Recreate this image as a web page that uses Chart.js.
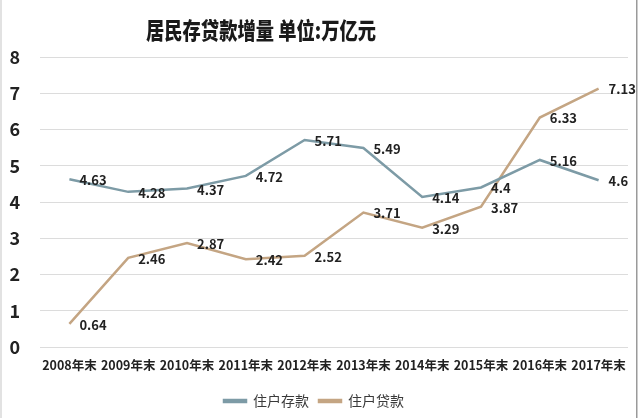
<!DOCTYPE html>
<html>
<head>
<meta charset="utf-8">
<script src="https://cdn.jsdelivr.net/npm/chart.js@4"></script>
<style>
    html, body { margin: 0; padding: 0; background: #fff; }
    #wrap { width: 640px; height: 418px; }
</style>
</head>
<body>
<div id="wrap"><canvas id="chart" width="640" height="418"></canvas></div>
<script>
// 居民存贷款增量 (万亿元)
var years = ['2008年末', '2009年末', '2010年末', '2011年末', '2012年末',
             '2013年末', '2014年末', '2015年末', '2016年末', '2017年末'];
var deposits = [4.63, 4.28, 4.37, 4.72, 5.71, 5.49, 4.14, 4.4, 5.16, 4.6];
var loans = [0.64, 2.46, 2.87, 2.42, 2.52, 3.71, 3.29, 3.87, 6.33, 7.13];
var yTicks = [0, 1, 2, 3, 4, 5, 6, 7, 8];

var titleText = '居民存贷款增量 单位:万亿元';
var FONT = '"Noto Sans CJK SC", "Noto Sans", sans-serif';

// white background, frame edges and the title
var framePlugin = {
    id: 'frame',
    beforeDraw: function (chart) {
        var ctx = chart.ctx;
        ctx.save();
        ctx.fillStyle = '#fff';
        ctx.fillRect(0, 0, chart.width, chart.height);
        ctx.fillStyle = '#e2e2e2';
        ctx.fillRect(0, 0, 2, chart.height);
        ctx.fillStyle = '#9a9a9a';
        ctx.fillRect(636, 0, 1.5, chart.height);
        ctx.restore();
    },
    afterDraw: function (chart) {
        var ctx = chart.ctx;
        ctx.save();
        ctx.font = '900 23px ' + FONT;
        ctx.fillStyle = '#1a1a1a';
        ctx.textAlign = 'center';
        ctx.textBaseline = 'middle';
        var w = ctx.measureText(titleText).width;
        var sx = 230 / w;
        ctx.translate(261, 30);
        ctx.scale(sx, 1);
        ctx.fillText(titleText, 0, 0);
        ctx.restore();
    }
};

// value labels to the right of each point
var valueLabels = {
    id: 'valueLabels',
    afterDatasetsDraw: function (chart) {
        var ctx = chart.ctx;
        ctx.save();
        ctx.font = 'bold 13px ' + FONT;
        ctx.fillStyle = '#222';
        ctx.textAlign = 'left';
        ctx.textBaseline = 'middle';
        chart.data.datasets.forEach(function (ds, i) {
            var meta = chart.getDatasetMeta(i);
            meta.data.forEach(function (pt, j) {
                ctx.fillText(String(ds.data[j]), pt.x + 10, pt.y + 1);
            });
        });
        ctx.restore();
    }
};

new Chart(document.getElementById('chart').getContext('2d'), {
    type: 'line',
    data: {
        labels: years,
        datasets: [
            {
                label: '住户存款',
                data: deposits,
                borderColor: '#7d9ba6',
                backgroundColor: '#7d9ba6',
                borderWidth: 2.5,
                pointRadius: 0,
                tension: 0
            },
            {
                label: '住户贷款',
                data: loans,
                borderColor: '#c4a583',
                backgroundColor: '#c4a583',
                borderWidth: 2.5,
                pointRadius: 0,
                tension: 0
            }
        ]
    },
    options: {
        responsive: false,
        animation: false,
        layout: { padding: { top: 57, right: 12, left: 0, bottom: 0 } },
        plugins: {
            title: { display: false },
            tooltip: { enabled: false },
            legend: {
                position: 'bottom',
                labels: {
                    boxWidth: 22,
                    boxHeight: 2,
                    padding: 10,
                    color: '#3a3a3a',
                    font: { family: FONT, size: 14 }
                }
            }
        },
        scales: {
            x: {
                offset: true,
                grid: { display: false, drawTicks: false },
                border: { display: false },
                ticks: {
                    padding: 11,
                    maxRotation: 0,
                    autoSkip: false,
                    color: '#222',
                    font: { family: FONT, size: 12.5, weight: 'bold' }
                },
                afterFit: function (scale) { scale.height = 37; }
            },
            y: {
                min: 0,
                max: 8,
                afterBuildTicks: function (scale) {
                    scale.ticks = yTicks.map(function (v) { return { value: v }; });
                },
                grid: { color: '#dcdcdc', lineWidth: 1, drawTicks: false },
                border: { display: false },
                ticks: {
                    padding: 20,
                    color: '#222',
                    font: { family: FONT, size: 18, weight: 'bold' }
                },
                afterFit: function (scale) { scale.width = 40; }
            }
        }
    },
    plugins: [framePlugin, valueLabels]
});
</script>
</body>
</html>
